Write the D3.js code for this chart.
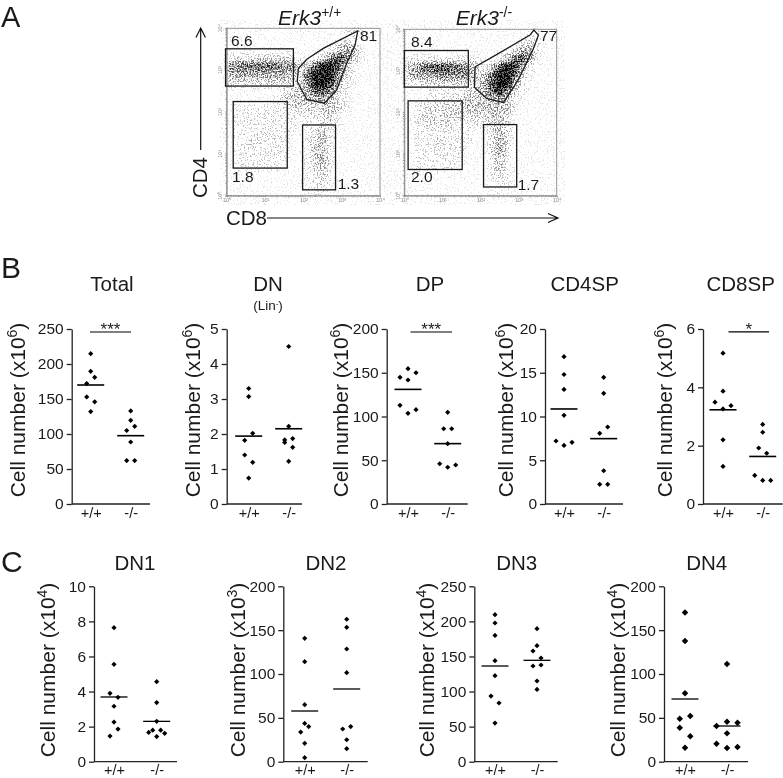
<!DOCTYPE html>
<html lang="en">
<head>
  <meta charset="UTF-8">
  <title>Erk3 thymocyte populations</title>
  <script src="https://d3js.org/d3.v7.min.js"></script>
  <style>
    body { margin: 0; background: #fff; }
    svg { display: block; font-family: "Liberation Sans", Arial, sans-serif; fill: #1a1a1a; filter: blur(0.3px); }
    .flow-axis text { font-size: 5.5px; fill: #8a8a8a; stroke: none; }
    .flow-axis line, .flow-axis path { stroke: #8a8a8a; stroke-width: 0.8; }
    .count-axis text { font-size: 15.5px; fill: #1a1a1a; }
    .count-axis line, .count-axis path { stroke: #222; stroke-width: 1.3; }
    .group-axis text { font-size: 14.5px; fill: #1a1a1a; }
  </style>
</head>
<body>
<svg id="chart" width="783" height="778"></svg>
<script>
  const groups = ["+/+", "-/-"];

  // panel B and C readings, lanes are the side-by-side columns the dots sit in
  const totalWt = [214.8, 189.5, 181, 172, 153, 146, 132];
  const totalWtLane = [0, 0, 1, -1, -1, 1, 0];
  const totalKo = [133, 119.5, 111, 105, 88.6, 62, 62];
  const totalKoLane = [0, 0, 1, -1, 0, -1, 1];
  const totalMeans = [170, 97.6];

  const dnWt = [3.3, 3.07, 2.02, 1.82, 1.4, 1.19, 0.74];
  const dnWtLane = [0, 0, 1, -1, -1, 1, 0];
  const dnKo = [4.5, 2.22, 1.87, 1.83, 1.76, 1.62, 1.22];
  const dnKoLane = [0, 0, 1, -1, -1, 1, 0];
  const dnMeans = [1.94, 2.15];

  const dpWt = [154.7, 150, 144.8, 141.7, 112.8, 107.8, 103.6];
  const dpWtLane = [0, 2, -2, 0, -2, 2, 0];
  const dpKo = [104.8, 86, 86, 69, 46, 42, 44.6];
  const dpKoLane = [0, -1, 1, 0, -2, 0, 2];
  const dpMeans = [131, 69];

  const cd4Wt = [16.84, 14.8, 13.1, 10.13, 7.2, 6.7, 7.05];
  const cd4WtLane = [0, 0, 0, 0, -2, 0, 2];
  const cd4Ko = [14.48, 12.65, 8.8, 8.08, 3.8, 2.25, 2.25];
  const cd4KoLane = [0, 0, 1, -1, 0, -1, 1];
  const cd4Means = [10.86, 7.47];

  const cd8Wt = [5.17, 3.87, 3.49, 3.37, 3.26, 2.2, 1.29];
  const cd8WtLane = [0, 0, -2, 2, 0, 0, 0];
  const cd8Ko = [2.73, 2.46, 1.92, 1.74, 0.98, 0.81, 0.81];
  const cd8KoLane = [0, 0, -1, 1, -2, 0, 2];
  const cd8Means = [3.23, 1.63];

  const dn1Wt = [7.64, 5.55, 3.9, 3.67, 3.16, 2.26, 1.86, 1.46];
  const dn1WtLane = [0, 0, -1, 1, 0, 0, 1, -1];
  const dn1Ko = [4.56, 3.37, 2.3, 1.8, 1.67, 1.8, 1.62, 1.43];
  const dn1KoLane = [0, 0, 0, -1, -2, 1, 2, 0];
  const dn1Means = [3.69, 2.3];

  const dn2Wt = [140.7, 114, 65, 43.7, 40, 33.8, 21, 4.6];
  const dn2WtLane = [0, 0, 0, 0, 1, -1, 0, 0];
  const dn2Ko = [162.4, 153.2, 128.5, 101.5, 40, 37.3, 25, 14.8];
  const dn2KoLane = [0, 0, 0, 0, 1, -1, 0, 0];
  const dn2Means = [57.8, 82.9];

  const dn3Wt = [209.6, 197.7, 180, 144, 122.6, 93.6, 83.7, 55];
  const dn3WtLane = [0, 0, 0, 0, 0, -1, 1, 0];
  const dn3Ko = [189.6, 165.4, 157.8, 147.8, 137.8, 136.4, 115, 103];
  const dn3KoLane = [0, 0, -1, 1, 1, -1, 0, 0];
  const dn3Means = [136.4, 144.5];

  const dn4Wt = [170, 137.6, 78, 52, 49, 38.8, 29, 16];
  const dn4WtLane = [0, 0, 0, 1, -1, -1, 1, 0];
  const dn4Ko = [111.4, 45.6, 44.5, 40.7, 32.3, 20.5, 15.6, 16.7];
  const dn4KoLane = [0, 0, 2, -2, 0, -2, 0, 2];
  const dn4Means = [71.5, 40.7];

  // panel A: event density read by eye, 20 x 20 cells (0 empty .. 9 solid), top row first
  const densityWt = [
    "00000000000000012100",
    "00000000000000121000",
    "00000000000001244100",
    "12222222210125763100",
    "55666665523699731000",
    "44444444326999521000",
    "22222222225998411000",
    "00000001234675210000",
    "00000012333343210000",
    "01111111222223210000",
    "01111111111123100000",
    "01111111101122100000",
    "01111211101231000000",
    "01121111001232000000",
    "01111111001331000000",
    "01111111001241000000",
    "01111110001231000000",
    "00000000001121000000",
    "00000000001121000000",
    "00000000000110000000"
  ];
  const densityKo = [
    "00000000000000001100",
    "00000000000000012100",
    "00000000000001244100",
    "11111111110013674100",
    "34677766421379831000",
    "34445555523699621000",
    "11222222224799410000",
    "00011111224685210000",
    "00111222333343100000",
    "01222222333333100000",
    "01222222222332000000",
    "01122211111232000000",
    "01111111100232000000",
    "01112111100242000000",
    "01111111000242000000",
    "01111111000131000000",
    "01111110000131000000",
    "00000000000121000000",
    "00000000000011000000",
    "00000000000010000000"
  ];

  // gates in decades of fluorescence, [xmin, xmax, ymin, ymax]
  const gateCd4Wt = [-0.03, 1.74, 2.62, 3.51];
  const gateDnWt = [0.17, 1.58, 0.66, 2.25];
  const gateCd8Wt = [1.98, 2.84, 0.14, 1.69];
  const gateDpWt = [[1.87,3.04],[2.09,3.26],[2.52,3.52],[3.42,3.94],[3.35,3.6],[3.13,3.16],[2.87,2.53],[2.55,2.21],[2.09,2.3],[1.84,2.73]];
  const gateCd4Ko = [0, 1.68, 2.61, 3.49];
  const gateDnKo = [0.1, 1.52, 0.63, 2.28];
  const gateCd8Ko = [2.08, 2.95, 0.21, 1.71];
  const gateDpKo = [[1.86,3.1],[2.25,3.3],[3.3,3.86],[3.4,3.98],[3.52,3.86],[3.39,3.54],[2.99,2.78],[2.6,2.24],[2.16,2.34],[1.84,2.61]];

  const svg = d3.select("#chart");

  function text(g, x, y, str, size, anchor) {
    return g.append("text").attr("x", x).attr("y", y).attr("font-size", size)
      .attr("text-anchor", anchor || "start").text(str);
  }

  // panel letters
  text(svg, 1, 26.5, "A", 29);
  text(svg, 1, 278, "B", 30);
  text(svg, 1, 572, "C", 30);

  // ---------- panel A ----------
  const defs = svg.append("defs");
  const grain = defs.append("filter").attr("id", "grain")
    .attr("filterUnits", "userSpaceOnUse")
    .attr("x", 220).attr("y", 20).attr("width", 345).attr("height", 185)
    .attr("color-interpolation-filters", "sRGB");
  grain.append("feGaussianBlur").attr("in", "SourceGraphic").attr("stdDeviation", 2.4).attr("result", "dens");
  grain.append("feTurbulence").attr("type", "fractalNoise").attr("baseFrequency", 0.7)
    .attr("numOctaves", 2).attr("seed", 4).attr("result", "turb");
  grain.append("feColorMatrix").attr("in", "turb").attr("type", "matrix")
    .attr("values", "0 0 0 0 0  0 0 0 0 0  0 0 0 0 0  3.5 0 0 0 -1.25").attr("result", "noise");
  grain.append("feComposite").attr("in", "dens").attr("in2", "noise").attr("operator", "arithmetic")
    .attr("k1", 0).attr("k2", 1.3).attr("k3", 0.8).attr("k4", -0.75).attr("result", "spk");
  grain.append("feGaussianBlur").attr("in", "spk").attr("stdDeviation", 0.5);

  const tickNames = { 1: "10⁰", 10: "10¹", 100: "10²", 1000: "10³", 10000: "10⁴" };

  const flowPlots = [
    { left: 226.7, right: 380, top: 28.3, bottom: 195.7, density: densityWt,
      cd4: gateCd4Wt, dn: gateDnWt, cd8: gateCd8Wt, dp: gateDpWt,
      head: "+/+", headX: 278,
      labels: [["6.6", 231, 45.7], ["81", 360, 41], ["1.8", 232, 181.7], ["1.3", 337.7, 189.3]] },
    { left: 404.3, right: 556.7, top: 29.3, bottom: 195.7, density: densityKo,
      cd4: gateCd4Ko, dn: gateDnKo, cd8: gateCd8Ko, dp: gateDpKo,
      head: "-/-", headX: 455.7,
      labels: [["8.4", 411, 46.7], ["77", 540, 40.7], ["2.0", 411, 182.3], ["1.7", 517.7, 190.3]] }
  ];

  flowPlots.forEach(p => {
    const x = d3.scaleLog().domain([1, 10000]).range([p.left, p.right]);
    const y = d3.scaleLog().domain([1, 10000]).range([p.bottom, p.top]);
    const col = d3.scaleBand().domain(d3.range(20)).range([p.left, p.right]);
    const row = d3.scaleBand().domain(d3.range(20)).range([p.top, p.bottom]);
    const shade = d3.scaleLinear().domain([0, 9]).range([0, 1]);

    const cells = p.density.flatMap((r, i) => Array.from(r, (c, j) => ({ i, j, v: +c })));
    svg.append("g").attr("filter", "url(#grain)")
      .selectAll("rect").data(cells).enter().append("rect")
      .attr("x", d => col(d.j)).attr("y", d => row(d.i))
      .attr("width", col.bandwidth() + 0.5).attr("height", row.bandwidth() + 0.5)
      .attr("fill", "#000").attr("fill-opacity", d => shade(d.v));

    const fmt = d => tickNames[d] || "";
    svg.append("g").attr("class", "flow-axis")
      .attr("transform", `translate(0,${p.bottom})`)
      .call(d3.axisBottom(x).tickValues(x.ticks()).tickFormat(fmt).tickSize(1.5).tickPadding(1));
    const yAxis = svg.append("g").attr("class", "flow-axis")
      .attr("transform", `translate(${p.left},0)`)
      .call(d3.axisLeft(y).tickValues(y.ticks()).tickFormat(fmt).tickSize(1.5).tickPadding(1));
    yAxis.selectAll("text").attr("text-anchor", "middle")
      .attr("transform", function(d) { return `rotate(-90,${-6},${y(d)})`; })
      .attr("x", -6).attr("y", d => y(d)).attr("dy", "0.32em");
    yAxis.selectAll(".tick").attr("transform", null);
    yAxis.selectAll(".tick line").attr("y1", d => y(d)).attr("y2", d => y(d));
    svg.append("rect").attr("x", p.left).attr("y", p.top)
      .attr("width", p.right - p.left).attr("height", p.bottom - p.top)
      .attr("fill", "none").attr("stroke", "#8a8a8a").attr("stroke-width", 0.9);

    const gates = svg.append("g").attr("fill", "none").attr("stroke", "#1a1a1a").attr("stroke-width", 1.3);
    [p.cd4, p.dn, p.cd8].forEach(b => {
      gates.append("rect")
        .attr("x", x(10 ** b[0])).attr("y", y(10 ** b[3]))
        .attr("width", x(10 ** b[1]) - x(10 ** b[0]))
        .attr("height", y(10 ** b[2]) - y(10 ** b[3]));
    });
    const poly = d3.line().x(d => x(10 ** d[0])).y(d => y(10 ** d[1])).curve(d3.curveLinearClosed);
    gates.append("path").attr("d", poly(p.dp));

    p.labels.forEach(l => text(svg, l[1], l[2], l[0], 15.5));

    const head = svg.append("text").attr("x", p.headX).attr("y", 24.7).attr("font-size", 21);
    head.append("tspan").attr("font-style", "italic").text("Erk3");
    head.append("tspan").attr("font-size", 14).attr("dy", -8).text(p.head);
  });

  // CD4 and CD8 arrows
  text(svg, 0, 0, "CD4", 20.5, "middle").attr("transform", "translate(207,177.5) rotate(-90)");
  text(svg, 226, 224.5, "CD8", 20.5);
  const arrows = svg.append("g").attr("fill", "none").attr("stroke", "#111").attr("stroke-width", 1.2);
  arrows.append("path").attr("d", "M200.7,150V28M196,37.5L200.7,28L205.4,37.5");
  arrows.append("path").attr("d", "M267,218H558M548,213.5L558,218L548,222.5");

  // ---------- panels B and C ----------
  const rowB = { top: 329, bottom: 504, labelY: 518, titleY: 290.7, nameMid: 410 };
  const rowC = { top: 586.3, bottom: 761.7, labelY: 775, titleY: 570, nameMid: 670 };

  const dotPanels = [
    { name: "Total", row: rowB, max: 250, step: 50, exp: "6", axisX: 71.7, endX: 150, c: [90.7, 130.7], titleX: 112, nameX: 25,
      wt: totalWt, wtLane: totalWtLane, ko: totalKo, koLane: totalKoLane, means: totalMeans, sig: "***", sigAt: 245.7, sigSpan: [90, 131] },
    { name: "DN", sub: true, row: rowB, max: 5, step: 1, exp: "6", axisX: 226.7, endX: 302, c: [248.7, 288.7], titleX: 268, nameX: 200,
      wt: dnWt, wtLane: dnWtLane, ko: dnKo, koLane: dnKoLane, means: dnMeans },
    { name: "DP", row: rowB, max: 200, step: 50, exp: "6", axisX: 386.7, endX: 467.7, c: [408, 447.7], titleX: 430, nameX: 348,
      wt: dpWt, wtLane: dpWtLane, ko: dpKo, koLane: dpKoLane, means: dpMeans, sig: "***", sigAt: 196.6, sigSpan: [410.5, 452] },
    { name: "CD4SP", row: rowB, max: 20, step: 5, exp: "6", axisX: 545, endX: 623, c: [564, 603.7], titleX: 584.7, nameX: 512.7,
      wt: cd4Wt, wtLane: cd4WtLane, ko: cd4Ko, koLane: cd4KoLane, means: cd4Means },
    { name: "CD8SP", row: rowB, max: 6, step: 2, exp: "6", axisX: 703, endX: 782.7, c: [723, 762.7], titleX: 740.7, nameX: 671.7,
      wt: cd8Wt, wtLane: cd8WtLane, ko: cd8Ko, koLane: cd8KoLane, means: cd8Means, sig: "*", sigAt: 5.9, sigSpan: [728.5, 769] },
    { name: "DN1", row: rowC, max: 10, step: 2, exp: "4", axisX: 94, endX: 177, c: [114, 156.7], titleX: 135, nameX: 55,
      wt: dn1Wt, wtLane: dn1WtLane, ko: dn1Ko, koLane: dn1KoLane, means: dn1Means },
    { name: "DN2", row: rowC, max: 200, step: 50, exp: "3", axisX: 283.3, endX: 367.7, c: [304.7, 346.7], titleX: 326, nameX: 245,
      wt: dn2Wt, wtLane: dn2WtLane, ko: dn2Ko, koLane: dn2KoLane, means: dn2Means },
    { name: "DN3", row: rowC, max: 250, step: 50, exp: "4", axisX: 474.3, endX: 557.7, c: [495, 537], titleX: 516.7, nameX: 434,
      wt: dn3Wt, wtLane: dn3WtLane, ko: dn3Ko, koLane: dn3KoLane, means: dn3Means },
    { name: "DN4", big: true, row: rowC, max: 200, step: 50, exp: "4", axisX: 664, endX: 748, c: [685, 727], titleX: 706.7, nameX: 625,
      wt: dn4Wt, wtLane: dn4WtLane, ko: dn4Ko, koLane: dn4KoLane, means: dn4Means }
  ];

  dotPanels.forEach(p => {
    const y = d3.scaleLinear().domain([0, p.max]).range([p.row.bottom, p.row.top]);
    const x = d3.scalePoint().domain(groups).range(p.c);
    const lane = d3.scaleLinear().domain([-2, 2]).range(p.big ? [-10.5, 10.5] : [-8, 8]);
    const g = svg.append("g");

    g.append("g").attr("class", "count-axis")
      .attr("transform", `translate(${p.axisX},0)`)
      .call(d3.axisLeft(y).tickValues(d3.range(0, p.max + p.step, p.step)).tickFormat(d3.format("d"))
        .tickSize(5).tickPadding(3).tickSizeOuter(0));

    const xAxis = g.append("g").attr("class", "group-axis")
      .attr("transform", `translate(0,${p.row.bottom})`)
      .call(d3.axisBottom(x).tickSize(0).tickPadding(3));
    xAxis.select(".domain").remove();
    xAxis.selectAll("text").attr("y", p.row.labelY - p.row.bottom).attr("dy", 0);
    g.append("line").attr("x1", p.axisX).attr("x2", p.endX)
      .attr("y1", p.row.bottom).attr("y2", p.row.bottom)
      .attr("stroke", "#222").attr("stroke-width", 1.3);

    text(g, p.titleX, p.row.titleY, p.name, 20.5, "middle");
    if (p.sub) {
      const sub = text(g, p.titleX, 310, "(Lin", 13.5, "middle");
      sub.append("tspan").attr("font-size", 8).attr("dy", -4).text("-");
      sub.append("tspan").attr("dy", 4).text(")");
    }

    const yName = text(g, 0, 0, "Cell number (x10", 21, "middle")
      .attr("transform", `translate(${p.nameX},${p.row.nameMid}) rotate(-90)`);
    yName.append("tspan").attr("font-size", 14).attr("dy", -8).text(p.exp);
    yName.append("tspan").attr("dy", 8).text(")");

    const dot = d3.symbol().type(d3.symbolSquare).size(p.big ? 21 : 13.5);
    [[p.wt, p.wtLane, groups[0]], [p.ko, p.koLane, groups[1]]].forEach(s => {
      g.append("g").selectAll("path").data(s[0]).enter().append("path")
        .attr("d", dot).attr("fill", "#000")
        .attr("transform", (d, i) => `translate(${x(s[2]) + lane(s[1][i])},${y(d)}) rotate(45)`);
    });

    g.append("g").selectAll("line").data(p.means).enter().append("line")
      .attr("x1", (d, i) => x(groups[i]) - 13.5).attr("x2", (d, i) => x(groups[i]) + 13.5)
      .attr("y1", d => y(d)).attr("y2", d => y(d))
      .attr("stroke", "#000").attr("stroke-width", p.row === rowB ? 1.6 : 1.3);

    if (p.sig) {
      g.append("line").attr("x1", p.sigSpan[0]).attr("x2", p.sigSpan[1])
        .attr("y1", y(p.sigAt)).attr("y2", y(p.sigAt))
        .attr("stroke", "#000").attr("stroke-width", 1.2);
      text(g, (p.sigSpan[0] + p.sigSpan[1]) / 2, y(p.sigAt) + 3, p.sig, 17, "middle");
    }
  });
</script>
</body>
</html>
